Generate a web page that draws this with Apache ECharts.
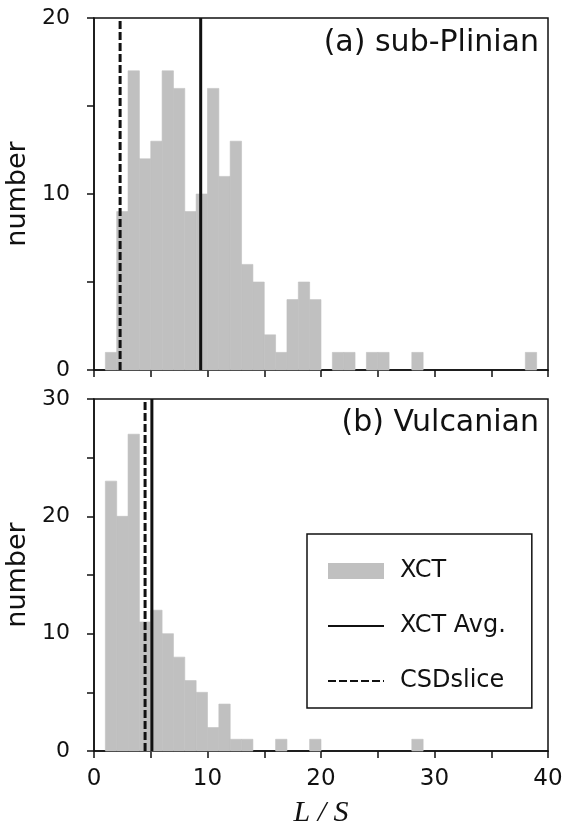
<!DOCTYPE html>
<html><head><meta charset="utf-8">
<script src="https://cdn.jsdelivr.net/npm/echarts@6/dist/echarts.min.js"></script>
<style>html,body{margin:0;padding:0;background:#fff}#c{width:565px;height:827px}</style>
</head><body><div id="c"></div>
<script>
// Histogram bins: lower edges, width 1
const binEdges = [1,2,3,4,5,6,7,8,9,10,11,12,13,14,15,16,17,18,19,20,21,22,23,24,25,26,27,28,29,30,31,32,33,34,35,36,37,38];
const binWidth = 1;
// (a) sub-Plinian counts
const countsA = [1,9,17,12,13,17,16,9,10,16,11,13,6,5,2,1,4,5,4,0,1,1,0,1,1,0,0,1,0,0,0,0,0,0,0,0,0,1];
// (b) Vulcanian counts
const countsB = [23,20,27,11,12,10,8,6,5,2,4,1,1,0,0,1,0,0,1,0,0,0,0,0,0,0,0,1,0,0,0,0,0,0,0,0,0,0];
// reference lines
const avgA = 9.4, csdA = 2.3;
const avgB = 5.1, csdB = 4.5;
// axes
const xMin = 0, xMax = 40, xStep = 5;
const yMaxA = 20, yMaxB = 30, yStep = 5;
const panelTitles = ['(a) sub-Plinian', '(b) Vulcanian'];
const seriesNames = ['XCT', 'XCT Avg.', 'CSDslice'];

const FONT = 'DejaVu Sans';
const INK = '#111';
const BAR = '#c0c0c0';

function histData(counts){ return binEdges.map((e,i)=>[e, e+binWidth, counts[i]]); }
function renderHist(params, api){
  const c = api.value(2);
  if (!c) return;
  const p0 = api.coord([api.value(0), c]);
  const p1 = api.coord([api.value(1), 0]);
  return {type:'rect', shape:{x:p0[0], y:p0[1], width:p1[0]-p0[0], height:p1[1]-p0[1]},
    style:{fill:BAR, stroke:BAR, lineWidth:0.6}};
}
function tenLabel(v){ return v % 10 === 0 ? String(v) : ''; }

function xAxisCfg(idx, showLabels){
  return {type:'value', gridIndex:idx, min:xMin, max:xMax, interval:xStep,
    axisLine:{lineStyle:{color:INK, width:1.5}},
    axisTick:{show:true, inside:false, length:7, lineStyle:{color:INK, width:1.5}},
    axisLabel:{show:showLabels, formatter:tenLabel, color:INK, fontFamily:FONT, fontSize:23, margin:17},
    splitLine:{show:false},
    name: showLabels ? 'L / S' : '', nameLocation:'middle', nameGap:47,
    nameTextStyle:{fontFamily:'Liberation Serif', fontStyle:'italic', fontSize:30, color:INK}};
}
function yAxisCfg(idx, max){
  return {type:'value', gridIndex:idx, min:0, max:max, interval:yStep,
    axisLine:{show:true, lineStyle:{color:INK, width:1.5}},
    axisTick:{show:true, inside:false, length:7, lineStyle:{color:INK, width:1.5}},
    axisLabel:{formatter:tenLabel, color:INK, fontFamily:FONT, fontSize:22, margin:24},
    splitLine:{show:false},
    name:'number', nameLocation:'middle', nameGap:58,
    nameTextStyle:{fontFamily:FONT, fontSize:27, color:INK}};
}
function vline(name, x, ymax, idx, dashed){
  return {type:'line', name:name, xAxisIndex:idx, yAxisIndex:idx, symbol:'none',
    data:[[x,0],[x,ymax]], silent:true, z:5,
    lineStyle:{color:INK, width:3, type: dashed ? [8,3] : 'solid'},
    itemStyle:{color:INK, opacity:0}};
}

const chart = echarts.init(document.getElementById('c'), null, {renderer:'canvas'});
chart.setOption({
  animation:false,
  backgroundColor:'#fff',
  title:[
    {text:panelTitles[0], right:26, top:28, padding:0, textStyle:{fontFamily:FONT, fontSize:30, fontWeight:'normal', color:INK}},
    {text:panelTitles[1], right:26, top:408, padding:0, textStyle:{fontFamily:FONT, fontSize:30, fontWeight:'normal', color:INK}}
  ],
  grid:[
    {left:94, width:454, top:18, height:352, show:true, borderColor:INK, borderWidth:1.5, backgroundColor:'transparent', outerBoundsMode:'none', containLabel:false},
    {left:94, width:454, top:399, height:352, show:true, borderColor:INK, borderWidth:1.5, backgroundColor:'transparent', outerBoundsMode:'none', containLabel:false}
  ],
  xAxis:[xAxisCfg(0,false), xAxisCfg(1,true)],
  yAxis:[yAxisCfg(0,yMaxA), yAxisCfg(1,yMaxB)],
  legend:{
    orient:'vertical', left:307, top:534,
    padding:[25,26,15,20], itemGap:31, itemWidth:56, itemHeight:16,
    borderColor:INK, borderWidth:1.5, backgroundColor:'#fff',
    textStyle:{fontFamily:FONT, fontSize:24, color:INK, padding:[0,0,0,11]},
    itemStyle:{opacity:0},
    data:[{name:seriesNames[0], icon:'rect', itemStyle:{opacity:1, color:BAR}}, seriesNames[1], seriesNames[2]]
  },
  series:[
    {type:'custom', name:seriesNames[0], xAxisIndex:0, yAxisIndex:0, renderItem:renderHist,
      encode:{x:[0,1], y:2}, data:histData(countsA), itemStyle:{color:BAR}},
    {type:'custom', name:seriesNames[0], xAxisIndex:1, yAxisIndex:1, renderItem:renderHist,
      encode:{x:[0,1], y:2}, data:histData(countsB), itemStyle:{color:BAR}},
    vline(seriesNames[1], avgA, yMaxA, 0, false),
    vline(seriesNames[2], csdA, yMaxA, 0, true),
    vline(seriesNames[1], avgB, yMaxB, 1, false),
    vline(seriesNames[2], csdB, yMaxB, 1, true)
  ]
});
</script></body></html>
